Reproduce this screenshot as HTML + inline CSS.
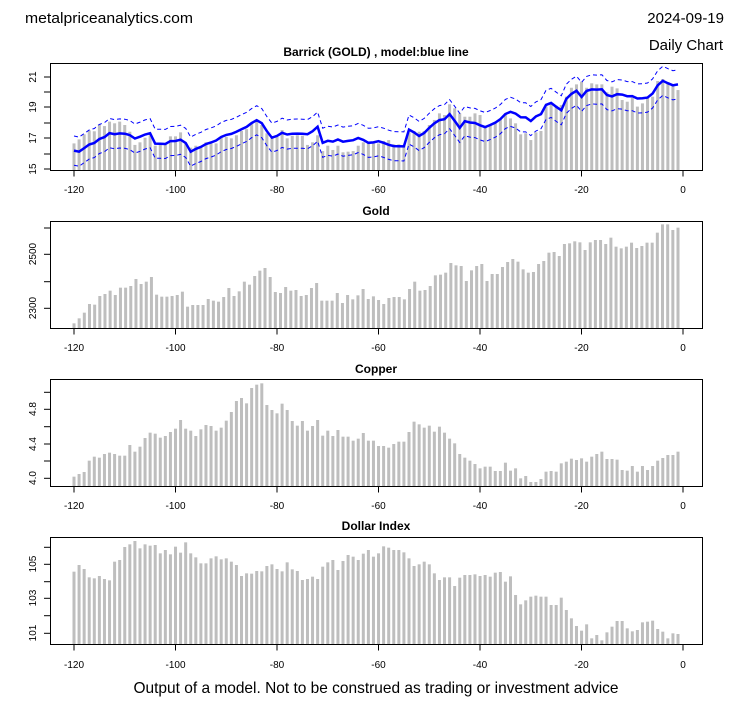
<!DOCTYPE html>
<html><head><meta charset="utf-8"><style>
html,body{margin:0;padding:0;background:#fff;width:753px;height:708px;overflow:hidden}
svg{display:block}
text{font-family:"Liberation Sans",sans-serif;fill:#000}
.t{font-size:12px;font-weight:bold}
.ax{font-size:10px}
</style></head><body>
<svg id="s" width="753" height="708" xmlns="http://www.w3.org/2000/svg">
<text x="25" y="23" font-size="15" textLength="168" lengthAdjust="spacingAndGlyphs">metalpriceanalytics.com</text>
<text x="724" y="23" font-size="15" text-anchor="end">2024-09-19</text>
<text x="723" y="50" font-size="15" text-anchor="end">Daily Chart</text>
<text class="t" x="376" y="56" text-anchor="middle">Barrick (GOLD) , model:blue line</text>
<text class="t" x="376" y="215" text-anchor="middle">Gold</text>
<text class="t" x="376" y="373" text-anchor="middle">Copper</text>
<text class="t" x="376" y="530" text-anchor="middle">Dollar Index</text>
<text x="376" y="693" font-size="16" text-anchor="middle" textLength="485" lengthAdjust="spacingAndGlyphs">Output of a model. Not to be construed as trading or investment advice</text>
<g id="g"></g>
<g class="ax" text-anchor="middle">
<text transform="translate(36,77) rotate(-90)">21</text>
<text transform="translate(36,107) rotate(-90)">19</text>
<text transform="translate(36,138) rotate(-90)">17</text>
<text transform="translate(36,169) rotate(-90)">15</text>
<text transform="translate(36,254) rotate(-90)">2500</text>
<text transform="translate(36,308) rotate(-90)">2300</text>
<text transform="translate(36,409) rotate(-90)">4.8</text>
<text transform="translate(36,444) rotate(-90)">4.4</text>
<text transform="translate(36,478) rotate(-90)">4.0</text>
<text transform="translate(36,564) rotate(-90)">105</text>
<text transform="translate(36,598) rotate(-90)">103</text>
<text transform="translate(36,633) rotate(-90)">101</text>
</g>
<g class="ax" text-anchor="middle">
<text x="74" y="193">-120</text><text x="175.5" y="193">-100</text><text x="277" y="193">-80</text><text x="378.5" y="193">-60</text><text x="480" y="193">-40</text><text x="581.5" y="193">-20</text><text x="683" y="193">0</text>
<text x="74" y="351">-120</text><text x="175.5" y="351">-100</text><text x="277" y="351">-80</text><text x="378.5" y="351">-60</text><text x="480" y="351">-40</text><text x="581.5" y="351">-20</text><text x="683" y="351">0</text>
<text x="74" y="509">-120</text><text x="175.5" y="509">-100</text><text x="277" y="509">-80</text><text x="378.5" y="509">-60</text><text x="480" y="509">-40</text><text x="581.5" y="509">-20</text><text x="683" y="509">0</text>
<text x="74" y="668">-120</text><text x="175.5" y="668">-100</text><text x="277" y="668">-80</text><text x="378.5" y="668">-60</text><text x="480" y="668">-40</text><text x="581.5" y="668">-20</text><text x="683" y="668">0</text>
</g>
</svg>
<script>
var NS="http://www.w3.org/2000/svg",G=document.getElementById('g');
function el(n,a){var e=document.createElementNS(NS,n);for(var k in a)e.setAttribute(k,a[k]);G.appendChild(e);return e;}
var barr=[16.67,16.93,17.26,17.52,17.46,17.91,17.8,18.09,17.98,18.09,17.87,17.43,16.57,16.74,17.04,17.2,16.52,16.57,16.57,17.13,17.13,17.39,16.67,16.39,16.52,16.46,16.74,16.67,16.67,17.04,17.1,17.0,17.2,17.48,17.6,17.98,18.09,17.87,17.33,17.0,17.1,17.54,17.0,17.17,17.2,17.17,16.57,16.74,17.2,16.17,16.52,16.24,16.52,16.09,16.13,16.17,16.52,16.74,16.74,16.67,16.67,16.83,16.89,16.61,16.61,16.57,17.39,17.48,17.43,17.48,17.87,18.2,18.63,18.52,19.22,18.96,18.63,18.41,18.41,18.63,18.52,17.76,17.87,17.98,18.3,18.63,18.3,17.98,17.26,17.33,16.89,17.39,17.48,19.07,19.22,19.13,19.17,19.72,20.3,20.52,20.7,20.3,20.59,20.52,20.52,20.0,20.37,20.26,19.5,19.39,19.65,19.07,19.28,19.65,19.72,20.74,20.87,20.65,20.52,20.15];
var gold=[370,355,338,312,314,288,282,272,285,263,263,258,237,252,245,231,284,290,290,288,285,275,320,315,315,315,297,302,305,291,264,288,274,245,254,228,212,204,231,276,279,261,272,270,288,285,264,249,302,302,302,279,309,285,298,286,267,297,289,300,312,294,291,291,298,267,245,272,270,258,226,224,218,189,196,198,243,211,198,192,243,222,222,201,186,177,185,208,218,216,192,183,158,156,168,132,130,124,127,150,127,120,120,132,113,140,145,140,128,144,138,128,128,98,73,73,90,83];
var cop=[350,342,336,302,290,293,282,278,282,287,287,255,275,260,234,218,221,233,228,216,206,180,206,212,228,208,195,198,212,203,182,156,123,114,130,84,74,70,135,150,160,131,150,183,197,183,212,198,180,227,212,228,210,230,230,242,236,219,242,242,258,258,263,252,245,245,216,185,193,203,197,215,200,218,236,250,282,293,302,312,325,320,320,333,333,308,332,325,355,348,366,366,357,335,333,335,310,305,296,300,295,305,290,282,275,297,297,299,330,332,318,335,318,330,318,302,294,285,285,275];
var dol=[170,150,162,187,190,183,192,196,140,135,96,88,78,100,88,92,90,115,105,118,95,113,82,115,127,145,145,130,124,133,130,140,150,183,175,176,168,169,153,148,162,169,142,163,168,195,192,185,192,155,142,135,165,138,120,125,135,116,105,125,115,94,98,105,105,112,130,153,148,140,148,175,195,187,187,213,188,180,180,178,183,180,185,173,171,200,184,240,268,256,245,242,245,245,270,270,248,285,310,333,347,328,370,360,376,352,335,318,318,340,349,345,322,320,317,342,350,370,355,357];
function X(i,n){return 74+i*(678-74)/(n-1);}
function panel(top,bot,tops,ticks){
  for(var i=0;i<tops.length;i++){var x=X(i,tops.length);el('rect',{x:x-1.5,y:tops[i],width:3,height:bot-tops[i],fill:'#bebebe'});}
  el('rect',{x:50.5,y:top+.5,width:652,height:bot-top,fill:'none',stroke:'#000','stroke-width':1});
  for(var t=0;t<ticks.length;t++)el('line',{x1:44,x2:50.5,y1:ticks[t],y2:ticks[t],stroke:'#000'});
  var b=bot+.5;el('line',{x1:74,x2:683,y1:b,y2:b,stroke:'#000'});
  for(var k=0;k<7;k++){var x=74+k*101.5;el('line',{x1:x,x2:x,y1:b,y2:b+6,stroke:'#000'});}
}
var bt=barr.map(function(v){return 169-(v-15)*15.33;});
panel(63,170,bt,[77,92,107,123,138,154,169]);
panel(221,328,gold.map(function(z){return 200+z/3;}),[228,254.3,281.7,308.3]);
panel(379,486,cop.map(function(z){return 360+z/3;}),[392.3,409.3,426.7,444,461,478.3]);
panel(537,644,dol.map(function(z){return 515+z/3;}),[547.3,564.3,581.7,598.3,615.7,633.3]);
var kp=[[0,16.2],[1,16.2],[3,16.55],[5,16.9],[7,17.28],[9,17.2],[11,17.2],[15,17.2],[16,16.74],[22,16.74],[23,16.24],[26,16.6],[30,17.2],[33,17.6],[36,18.04],[37,17.9],[39,17.17],[42,17.3],[45,17.25],[48,17.6],[49,16.83],[53,16.85],[56,17.0],[58,16.67],[60,16.83],[62,16.52],[65,16.6],[66,17.48],[68,17.17],[71,17.98],[74,18.41],[76,17.7],[77,18.2],[80,17.76],[84,18.2],[86,18.63],[88,18.5],[90,18.35],[93,18.96],[94,19.17],[96,18.96],[97,19.61],[99,20.0],[100,19.61],[101,20.15],[104,20.15],[106,19.65],[108,19.93],[110,19.72],[113,19.72],[116,20.59],[118,20.48],[119,20.52]];
var m=[];for(var j=0;j<kp.length-1;j++){var a=kp[j],b=kp[j+1];for(var i=a[0];i<b[0];i++)m[i]=a[1]+(b[1]-a[1])*(i-a[0])/(b[0]-a[0]);}m[119]=20.52;
// add bar-correlated wiggle
var sm=[];for(var i=0;i<barr.length;i++){var s=0,c=0;for(var d=-3;d<=3;d++){if(barr[i+d]!==undefined){s+=barr[i+d];c++;}}sm[i]=s/c;}
for(var i=1;i<m.length-1;i++)m[i]+=0.3*(barr[i]-sm[i]);
function path(off){var d='';for(var i=0;i<m.length;i++){var x=X(i,m.length),y=169-(m[i]+off-15)*15.33;d+=(i?'L':'M')+x.toFixed(1)+' '+y.toFixed(1);}return d;}
el('path',{d:path(0.95),fill:'none',stroke:'#0000ff','stroke-width':1,'stroke-dasharray':'4,3'});
el('path',{d:path(-0.95),fill:'none',stroke:'#0000ff','stroke-width':1,'stroke-dasharray':'4,3'});
el('path',{d:path(0),fill:'none',stroke:'#0000ff','stroke-width':2.5});
</script>
</body></html>
